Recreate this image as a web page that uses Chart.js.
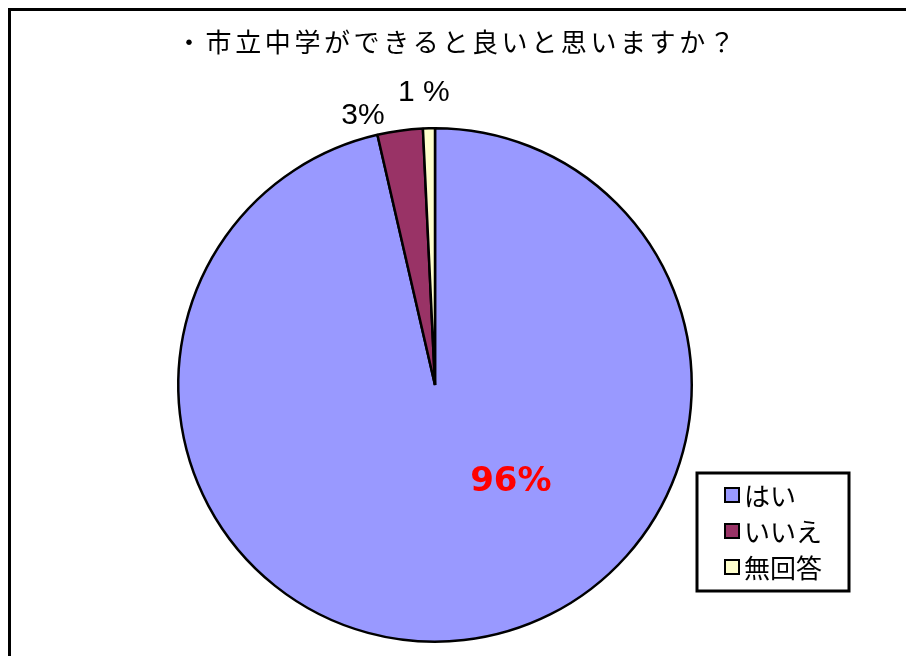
<!DOCTYPE html>
<html>
<head>
<meta charset="utf-8">
<script src="https://cdn.jsdelivr.net/npm/chart.js@4/dist/chart.umd.min.js"></script>
<style>
  html, body { margin: 0; padding: 0; background: #fff; }
  canvas { display: block; }
</style>
</head>
<body>
<canvas id="pie" width="906" height="656"></canvas>
<script>
var titleText = '・市立中学ができると良いと思いますか？';
var categories = ['はい', 'いいえ', '無回答'];
var values = [96.4, 2.85, 0.75];
var valueLabels = ['96%', '3%', '1 %'];
var sliceColors = ['#9999FF', '#993366', '#FFFFCC'];

var FONT = '"Noto Sans CJK JP", "Noto Sans", sans-serif';

// where each % label sits: [degrees from 12 o'clock, multiple of radius]
var labelSpots = [[142, 0.48], [-15, 1.085], [-2.2, 1.14]];

var decorPlugin = {
  id: 'decor',
  beforeDraw: function(chart) {
    var ctx = chart.ctx;
    ctx.save();
    ctx.fillStyle = '#fff';
    ctx.fillRect(0, 0, chart.width, chart.height);
    ctx.lineWidth = 3;
    ctx.strokeStyle = '#000';
    ctx.strokeRect(9.5, 9.5, 1000, 1000);

    ctx.fillStyle = '#000';
    ctx.font = '26px ' + FONT;
    ctx.letterSpacing = '3.6px';
    ctx.textAlign = 'left';
    ctx.textBaseline = 'middle';
    ctx.fillText(titleText, 176, 42);
    ctx.restore();
  },
  afterDatasetsDraw: function(chart) {
    var ctx = chart.ctx;
    var meta = chart.getDatasetMeta(0);
    ctx.save();
    ctx.textAlign = 'center';
    ctx.textBaseline = 'middle';
    meta.data.forEach(function(arc, i) {
      var spot = labelSpots[i];
      var a = (spot[0] - 90) * Math.PI / 180;
      var d = arc.outerRadius * spot[1];
      var x = arc.x + Math.cos(a) * d;
      var y = arc.y + Math.sin(a) * d;
      if (i === 0) {
        ctx.fillStyle = '#FF0000';
        ctx.font = 'bold 34px "DejaVu Sans", sans-serif';
      } else {
        ctx.fillStyle = '#000';
        ctx.font = '30px "Liberation Sans", sans-serif';
      }
      ctx.fillText(valueLabels[i], x, y);
    });

    // legend box
    var bx = 697, by = 473, bw = 152, bh = 118;
    ctx.lineWidth = 3;
    ctx.strokeStyle = '#000';
    ctx.fillStyle = '#fff';
    ctx.fillRect(bx, by, bw, bh);
    ctx.strokeRect(bx, by, bw, bh);
    ctx.textAlign = 'left';
    ctx.font = '26px ' + FONT;
    categories.forEach(function(name, i) {
      var cy = by + 22 + i * 36;
      ctx.fillStyle = sliceColors[i];
      ctx.fillRect(725, cy - 7, 14, 14);
      ctx.lineWidth = 2;
      ctx.strokeRect(725, cy - 7, 14, 14);
      ctx.fillStyle = '#000';
      ctx.fillText(name, 744, cy + 1);
    });
    ctx.restore();
  }
};

new Chart(document.getElementById('pie'), {
  type: 'pie',
  data: {
    labels: categories,
    datasets: [{
      data: values,
      backgroundColor: sliceColors,
      borderColor: '#000',
      borderWidth: 2.5
    }]
  },
  options: {
    responsive: false,
    animation: false,
    layout: { padding: { left: 177, right: 213, top: 127, bottom: 13 } },
    plugins: {
      legend: { display: false },
      title: { display: false },
      tooltip: { enabled: false }
    }
  },
  plugins: [decorPlugin]
});
</script>
</body>
</html>
